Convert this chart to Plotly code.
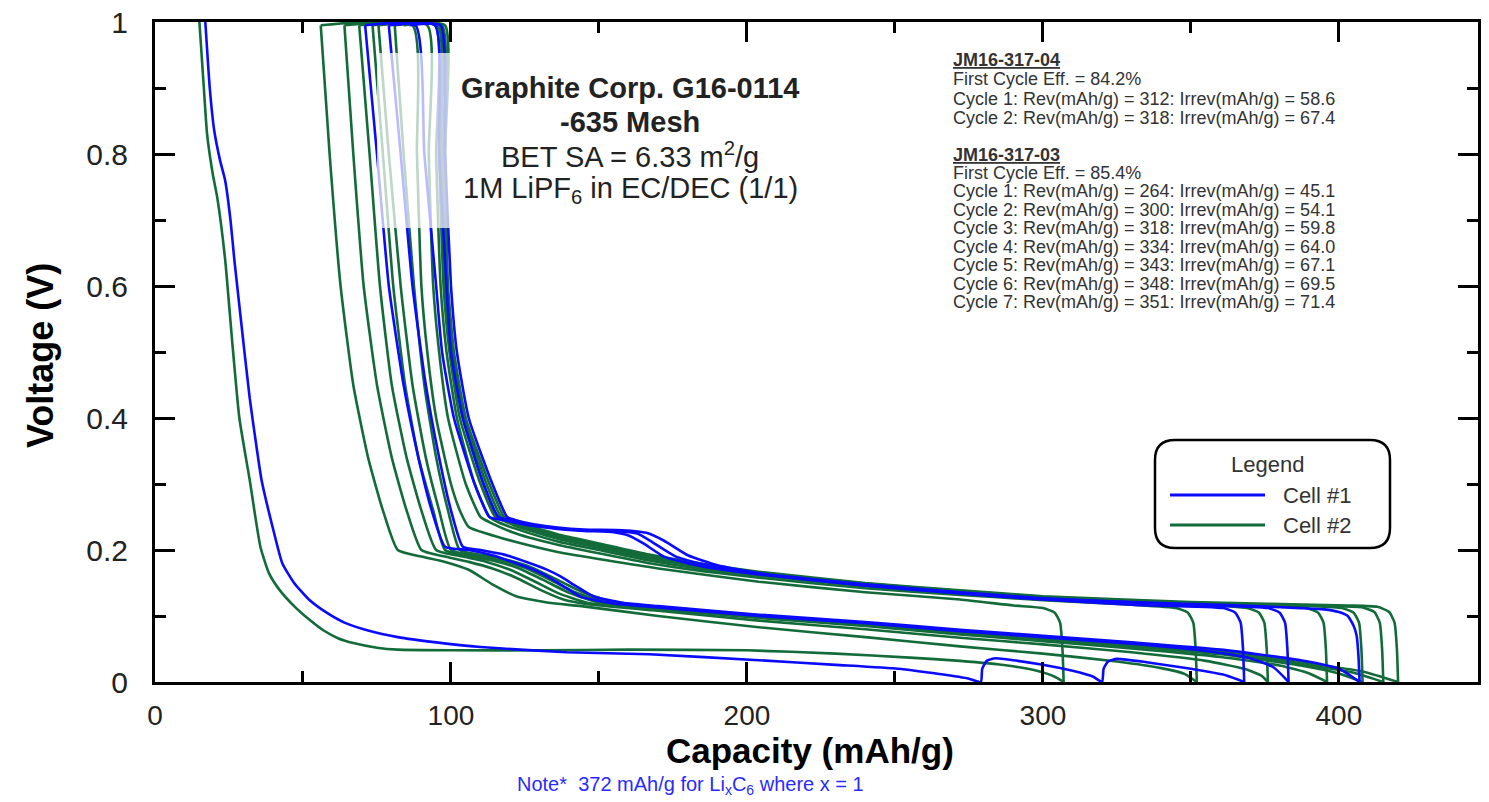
import plotly.graph_objects as go

# ---------------- DATA (capacity mAh/g, voltage V) ----------------
# Cell #1 (blue)
c1_d1_x = [17, 18.5, 20, 22, 23.7, 25.5, 26.8, 29, 32, 34.5, 36, 40, 43, 47, 52, 58, 64, 72, 82, 95, 110, 139, 167, 204, 230, 251, 265, 275, 279, 279.5, 281, 284, 290, 300, 310, 317, 320, 320.5, 322, 325, 335, 350, 362, 368]
c1_d1_y = [1.0, 0.9, 0.836, 0.79, 0.76, 0.7, 0.64, 0.55, 0.43, 0.35, 0.306, 0.23, 0.18, 0.15, 0.125, 0.105, 0.09, 0.078, 0.068, 0.06, 0.053, 0.045, 0.042, 0.033, 0.026, 0.02, 0.012, 0.005, 0.0, 0.02, 0.032, 0.036, 0.033, 0.026, 0.017, 0.008, 0.0, 0.02, 0.031, 0.035, 0.03, 0.02, 0.01, 0.0]
c1_c1_x = [368, 367.6, 366.8, 365, 361, 330, 300, 272, 240, 204, 185, 172, 165, 160, 155, 145, 136, 126, 118, 113, 108, 101, 97, 95, 91, 88, 71]
c1_c1_y = [0.0, 0.05, 0.09, 0.105, 0.112, 0.117, 0.125, 0.134, 0.146, 0.163, 0.175, 0.19, 0.21, 0.222, 0.227, 0.229, 0.232, 0.238, 0.245, 0.25, 0.3, 0.4, 0.5, 0.6, 0.8, 0.995, 0.995]
c1_d2_x = [71, 75, 79, 84, 89, 93.5, 98, 106, 114, 122, 128, 133, 138, 144, 155, 167, 204, 240, 272, 300, 330, 355, 370, 378, 383]
c1_d2_y = [0.995, 0.8, 0.6, 0.45, 0.34, 0.26, 0.205, 0.2, 0.192, 0.18, 0.17, 0.159, 0.145, 0.129, 0.119, 0.114, 0.1, 0.089, 0.077, 0.068, 0.058, 0.047, 0.036, 0.022, 0.0]
c1_c2_x = [383, 382.6, 381.8, 380, 376, 350, 300, 272, 240, 204, 188, 176, 168, 163, 155, 145, 136, 126, 120, 116, 111, 104, 100, 98.5, 96, 94.6, 79]
c1_c2_y = [0.0, 0.05, 0.09, 0.105, 0.112, 0.117, 0.126, 0.135, 0.147, 0.164, 0.176, 0.19, 0.212, 0.225, 0.229, 0.23, 0.233, 0.238, 0.245, 0.25, 0.3, 0.4, 0.5, 0.6, 0.8, 0.995, 0.995]
c1_d3_x = [79, 83, 87, 91.5, 96, 100, 104, 110, 118, 126, 132, 137, 142, 148, 158, 170, 204, 240, 272, 300, 330, 360, 387, 400, 407]
c1_d3_y = [0.995, 0.8, 0.6, 0.45, 0.34, 0.26, 0.205, 0.2, 0.193, 0.181, 0.171, 0.16, 0.146, 0.13, 0.12, 0.115, 0.102, 0.091, 0.079, 0.07, 0.06, 0.049, 0.033, 0.02, 0.0]
c1_c3_x = [407, 406.6, 406, 405, 403, 400, 395, 387, 360, 330, 300, 272, 240, 204, 190, 180, 172, 166, 158, 145, 136, 128, 122, 119, 114, 106, 102, 100, 98, 96.5, 86]
c1_c3_y = [0.0, 0.04, 0.07, 0.085, 0.1, 0.106, 0.11, 0.112, 0.117, 0.121, 0.127, 0.136, 0.148, 0.165, 0.177, 0.192, 0.214, 0.226, 0.23, 0.231, 0.234, 0.239, 0.245, 0.25, 0.3, 0.4, 0.5, 0.6, 0.8, 0.995, 0.995]

# Cell #2 (green)
c2_d1_x = [15, 16.5, 17.6, 19.5, 21, 23.7, 26, 28.5, 32, 35.6, 38.5, 42, 47, 52, 57, 62, 67, 75, 82, 100, 130, 160, 200, 230, 255, 272, 288, 298, 304, 307]
c2_d1_y = [1.0, 0.9, 0.83, 0.77, 0.735, 0.64, 0.52, 0.4, 0.306, 0.205, 0.165, 0.14, 0.115, 0.095, 0.078, 0.066, 0.059, 0.052, 0.049, 0.048, 0.048, 0.049, 0.048, 0.043, 0.037, 0.032, 0.025, 0.017, 0.008, 0.0]
c2_c1_x = [307, 306.6, 305.8, 304, 300, 290, 272, 240, 204, 170, 136, 122, 112, 106, 103, 100, 95, 92, 90, 88.5, 87, 56]
c2_c1_y = [0.0, 0.05, 0.09, 0.105, 0.112, 0.116, 0.125, 0.136, 0.152, 0.172, 0.197, 0.212, 0.225, 0.235, 0.26, 0.3, 0.4, 0.5, 0.6, 0.8, 0.995, 0.995]
c2_d2_x = [56, 59, 62.7, 67, 72, 77, 82, 90, 98, 106, 114, 122, 133, 144, 170, 204, 240, 272, 300, 325, 340, 348, 352]
c2_d2_y = [0.995, 0.8, 0.6, 0.45, 0.34, 0.26, 0.2, 0.19, 0.182, 0.17, 0.148, 0.13, 0.12, 0.115, 0.1, 0.083, 0.068, 0.054, 0.043, 0.031, 0.021, 0.012, 0.0]
c2_c2_x = [352, 351.6, 350.8, 349, 345, 330, 300, 272, 240, 204, 185, 167, 150, 136, 122, 114, 110, 105, 99, 96, 94, 92.5, 92, 64]
c2_c2_y = [0.0, 0.05, 0.09, 0.105, 0.112, 0.117, 0.124, 0.132, 0.142, 0.158, 0.168, 0.18, 0.195, 0.208, 0.225, 0.24, 0.25, 0.3, 0.4, 0.5, 0.6, 0.8, 0.995, 0.995]
c2_d3_x = [64, 67, 70.5, 75, 80, 85, 90, 98, 106, 114, 122, 130, 138, 146, 170, 204, 240, 272, 300, 330, 355, 368, 374, 376]
c2_d3_y = [0.995, 0.8, 0.6, 0.45, 0.34, 0.26, 0.2, 0.19, 0.182, 0.172, 0.158, 0.14, 0.125, 0.118, 0.108, 0.093, 0.08, 0.067, 0.057, 0.045, 0.032, 0.02, 0.009, 0.0]
c2_c3_x = [376, 375.6, 374.8, 373, 369, 350, 300, 272, 240, 204, 185, 167, 150, 136, 122, 116, 113, 108, 102, 98.5, 96.5, 95, 94.6, 69]
c2_c3_y = [0.0, 0.05, 0.09, 0.105, 0.112, 0.118, 0.126, 0.135, 0.145, 0.161, 0.171, 0.184, 0.2, 0.213, 0.232, 0.242, 0.25, 0.3, 0.4, 0.5, 0.6, 0.8, 0.995, 0.995]
c2_d4_x = [69, 72.5, 76, 80, 85, 90, 95, 104, 112, 120, 128, 136, 146, 170, 204, 240, 272, 300, 330, 360, 380, 390, 396]
c2_d4_y = [0.995, 0.8, 0.6, 0.45, 0.34, 0.26, 0.2, 0.19, 0.182, 0.17, 0.153, 0.135, 0.12, 0.11, 0.097, 0.085, 0.072, 0.062, 0.051, 0.038, 0.025, 0.013, 0.0]
c2_c4_x = [396, 395.6, 394.8, 393, 389, 380, 350, 300, 272, 240, 204, 185, 167, 150, 136, 122, 118, 115, 110, 103, 99.5, 97.5, 96, 95.5, 73.5]
c2_c4_y = [0.0, 0.05, 0.09, 0.105, 0.112, 0.115, 0.119, 0.127, 0.136, 0.147, 0.163, 0.174, 0.187, 0.203, 0.217, 0.236, 0.244, 0.25, 0.3, 0.4, 0.5, 0.6, 0.8, 0.995, 0.995]
c2_d5_x = [73.5, 77, 80.5, 84.5, 89, 94, 98, 107, 115, 123, 131, 140, 150, 170, 204, 240, 272, 300, 330, 360, 387, 400, 408]
c2_d5_y = [0.995, 0.8, 0.6, 0.45, 0.34, 0.26, 0.2, 0.19, 0.183, 0.172, 0.155, 0.135, 0.12, 0.112, 0.099, 0.087, 0.074, 0.065, 0.054, 0.042, 0.025, 0.013, 0.0]
c2_c5_x = [408, 407.6, 406.8, 405, 401, 390, 350, 300, 272, 240, 204, 185, 167, 150, 136, 122, 119, 116, 111, 104, 100, 98, 96.5, 96, 75.5]
c2_c5_y = [0.0, 0.05, 0.09, 0.105, 0.112, 0.115, 0.12, 0.128, 0.137, 0.148, 0.165, 0.176, 0.19, 0.206, 0.22, 0.238, 0.245, 0.25, 0.3, 0.4, 0.5, 0.6, 0.8, 0.995, 0.995]
c2_d6_x = [75.5, 79, 83, 87, 91.5, 96, 100, 109, 117, 125, 133, 142, 152, 170, 204, 240, 272, 300, 330, 360, 387, 405, 415]
c2_d6_y = [0.995, 0.8, 0.6, 0.45, 0.34, 0.26, 0.2, 0.191, 0.184, 0.173, 0.156, 0.136, 0.121, 0.113, 0.1, 0.088, 0.075, 0.066, 0.056, 0.044, 0.027, 0.014, 0.0]
c2_c6_x = [415, 414.6, 413.8, 412, 408, 398, 350, 300, 272, 240, 204, 185, 167, 150, 136, 122, 119, 117, 112, 104.5, 100.5, 98.5, 97.2, 97, 81]
c2_c6_y = [0.0, 0.05, 0.09, 0.106, 0.113, 0.115, 0.12, 0.129, 0.138, 0.149, 0.166, 0.178, 0.192, 0.208, 0.222, 0.24, 0.246, 0.25, 0.3, 0.4, 0.5, 0.6, 0.8, 0.995, 0.995]
c2_d7_x = [81, 84, 87.5, 91, 95, 99, 103, 111, 119, 127, 135, 144, 154, 170, 204, 240, 272, 300, 330, 360, 387, 408, 420]
c2_d7_y = [0.995, 0.8, 0.6, 0.45, 0.34, 0.26, 0.2, 0.192, 0.185, 0.174, 0.157, 0.137, 0.122, 0.114, 0.101, 0.089, 0.076, 0.067, 0.057, 0.046, 0.03, 0.016, 0.0]
c2_c7_x = [420, 419.6, 418.8, 417, 413, 403, 350, 300, 272, 240, 204, 185, 167, 150, 136, 122, 120, 118, 113, 105, 101, 99, 98, 98, 84]
c2_c7_y = [0.0, 0.05, 0.09, 0.106, 0.114, 0.116, 0.121, 0.13, 0.139, 0.15, 0.167, 0.179, 0.193, 0.21, 0.224, 0.242, 0.246, 0.25, 0.3, 0.4, 0.5, 0.6, 0.8, 0.995, 0.995]

cell1_curves = [(c1_d1_x, c1_d1_y), (c1_c1_x, c1_c1_y), (c1_d2_x, c1_d2_y), (c1_c2_x, c1_c2_y),
                (c1_d3_x, c1_d3_y), (c1_c3_x, c1_c3_y)]
cell2_curves = [(c2_d1_x, c2_d1_y), (c2_c1_x, c2_c1_y), (c2_d2_x, c2_d2_y), (c2_c2_x, c2_c2_y),
                (c2_d3_x, c2_d3_y), (c2_c3_x, c2_c3_y), (c2_d4_x, c2_d4_y), (c2_c4_x, c2_c4_y),
                (c2_d5_x, c2_d5_y), (c2_c5_x, c2_c5_y), (c2_d6_x, c2_d6_y), (c2_c6_x, c2_c6_y),
                (c2_d7_x, c2_d7_y), (c2_c7_x, c2_c7_y)]

x_ticks = [0, 100, 200, 300, 400]
y_ticks = [0, 0.2, 0.4, 0.6, 0.8, 1]

title_lines = ["<b>Graphite Corp. G16-0114</b>", "<b>-635 Mesh</b>",
               "BET SA = 6.33 m<sup>2</sup>/g", "1M LiPF<sub>6</sub> in EC/DEC (1/1)"]
summary_lines = [
    "<b><u>JM16-317-04</u></b>",
    "First Cycle Eff. = 84.2%",
    "Cycle 1: Rev(mAh/g) = 312: Irrev(mAh/g) = 58.6",
    "Cycle 2: Rev(mAh/g) = 318: Irrev(mAh/g) = 67.4",
    "<b><u>JM16-317-03</u></b>",
    "First Cycle Eff. = 85.4%",
    "Cycle 1: Rev(mAh/g) = 264: Irrev(mAh/g) = 45.1",
    "Cycle 2: Rev(mAh/g) = 300: Irrev(mAh/g) = 54.1",
    "Cycle 3: Rev(mAh/g) = 318: Irrev(mAh/g) = 59.8",
    "Cycle 4: Rev(mAh/g) = 334: Irrev(mAh/g) = 64.0",
    "Cycle 5: Rev(mAh/g) = 343: Irrev(mAh/g) = 67.1",
    "Cycle 6: Rev(mAh/g) = 348: Irrev(mAh/g) = 69.5",
    "Cycle 7: Rev(mAh/g) = 351: Irrev(mAh/g) = 71.4",
]
legend_names = ["Cell #1", "Cell #2"]

BLUE = "#0a0aff"
GREEN = "#136b3a"
FONT = "Liberation Sans, Arial, Helvetica, sans-serif"

# ---------------- FIGURE ----------------
fig = go.Figure()
for xs, ys in cell2_curves:
    fig.add_trace(go.Scatter(x=xs, y=ys, mode="lines", line=dict(color=GREEN, width=2.6, shape="spline", smoothing=0.5),
                             showlegend=False, hoverinfo="skip"))
for xs, ys in cell1_curves:
    fig.add_trace(go.Scatter(x=xs, y=ys, mode="lines", line=dict(color=BLUE, width=2.6, shape="spline", smoothing=0.5),
                             showlegend=False, hoverinfo="skip"))

W, H = 1489, 802
ML, MT, MR, MB = 155, 22, 11, 120
PW, PH = W - ML - MR, H - MT - MB

def px2paper(px, py):
    return (px - ML) / PW, (H - MB - py) / PH

axis_common = dict(showline=True, linewidth=3, linecolor="black", mirror="ticks", ticks="inside",
                   tickwidth=3, tickcolor="black", showgrid=False, zeroline=False, automargin=False,
                   ticklabeloverflow="allow")

fig.update_xaxes(range=[0, 447], tickvals=x_ticks, ticklen=20, ticklabelstandoff=6,
                 tickfont=dict(family=FONT, size=28, color="#222"),
                 minor=dict(dtick=50, tick0=0, ticklen=11, tickwidth=3, ticks="inside", tickcolor="black"),
                 **axis_common)
fig.update_yaxes(range=[0, 1], tickvals=y_ticks, ticklen=20, ticklabelstandoff=18,
                 tickfont=dict(family=FONT, size=30, color="#222"),
                 minor=dict(dtick=0.1, tick0=0, ticklen=11, tickwidth=3, ticks="inside", tickcolor="black"),
                 **axis_common)

def ann(px, py, text, size, color="#222", xanchor="center", **kw):
    ax, ay = px2paper(px, py)
    return dict(x=ax, y=ay, xref="paper", yref="paper", text=text, showarrow=False,
                xanchor=xanchor, yanchor="middle", font=dict(family=FONT, size=size, color=color), **kw)

annotations = []
annotations.append(ann(40, 356, "<b>Voltage (V)</b>", 36, "black", textangle=-90))
annotations.append(ann(810, 750, "<b>Capacity (mAh/g)</b>", 35, "black"))
annotations.append(ann(690, 786, "Note*  372 mAh/g for Li<sub>x</sub>C<sub>6</sub> where x = 1", 20, "#2a2aff"))
for txt, py in zip(title_lines, [88, 122, 155, 190]):
    annotations.append(ann(630, py, txt, 29))
for txt, py in zip(summary_lines, [60, 79, 99, 118, 155, 173, 191, 210, 228, 247, 265, 284, 302]):
    annotations.append(ann(951, py, txt, 18, "#333", xanchor="left"))
annotations.append(ann(1267, 465, "Legend", 22, "#333"))
for name, py in zip(legend_names, [495, 525]):
    annotations.append(ann(1281, py, name, 22, "#333", xanchor="left"))

shapes = []
# translucent white box behind the graphite title
x0, y1 = px2paper(377, 53)
x1, y0 = px2paper(885, 228)
shapes.append(dict(type="rect", xref="paper", yref="paper", x0=x0, x1=x1, y0=y0, y1=y1,
                   fillcolor="rgba(255,255,255,0.72)", line=dict(width=0), layer="above"))
# rounded legend box
bx0, by1 = px2paper(1155, 440)
bx1, by0 = px2paper(1390, 548)
rx, ry = 20 / PW, 20 / PH
path = (f"M {bx0+rx},{by0} L {bx1-rx},{by0} Q {bx1},{by0} {bx1},{by0+ry} L {bx1},{by1-ry} "
        f"Q {bx1},{by1} {bx1-rx},{by1} L {bx0+rx},{by1} Q {bx0},{by1} {bx0},{by1-ry} "
        f"L {bx0},{by0+ry} Q {bx0},{by0} {bx0+rx},{by0} Z")
shapes.append(dict(type="path", xref="paper", yref="paper", path=path, fillcolor="white",
                   line=dict(color="black", width=2.5), layer="above"))
for col, py in zip([BLUE, GREEN], [495, 525]):
    lx0, ly = px2paper(1170, py)
    lx1, _ = px2paper(1265, py)
    shapes.append(dict(type="line", xref="paper", yref="paper", x0=lx0, x1=lx1, y0=ly, y1=ly,
                       line=dict(color=col, width=3), layer="above"))

fig.update_layout(width=W, height=H, margin=dict(l=ML, r=MR, t=MT, b=MB, autoexpand=False),
                  paper_bgcolor="white", plot_bgcolor="white", showlegend=False,
                  annotations=annotations, shapes=shapes, font=dict(family=FONT))

# remove the default 8px page margin so the figure fills the window exactly
fig.write_html("out.html", config={"displayModeBar": False},
               post_script="document.body.style.margin='0px';document.body.style.overflow='hidden';")
